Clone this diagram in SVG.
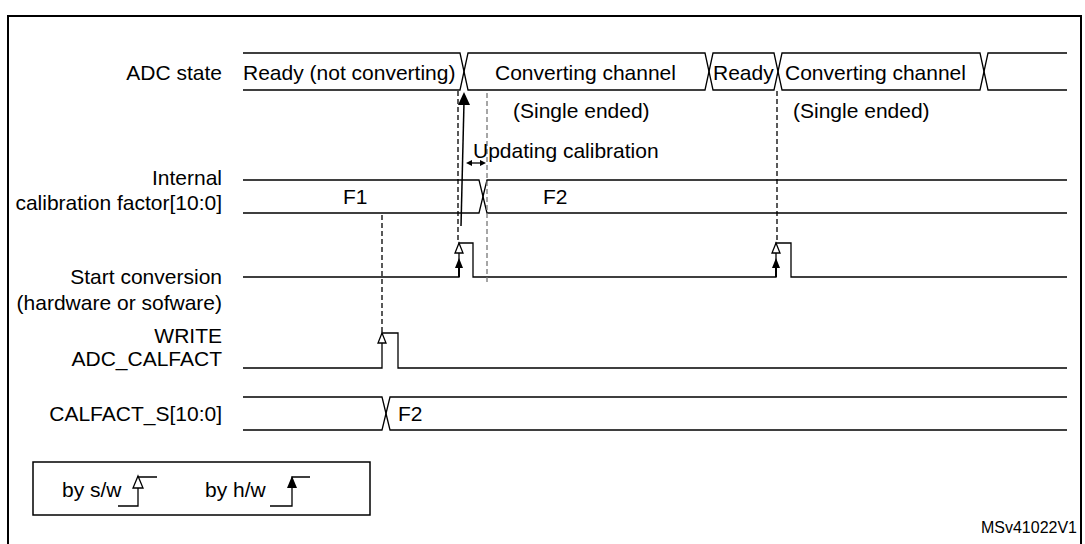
<svg xmlns="http://www.w3.org/2000/svg" width="1085" height="544" viewBox="0 0 1085 544">
<style>
text{font-family:"Liberation Sans",Arial,sans-serif;font-size:21px;fill:#000}
.lbl{text-anchor:end}
.sig{fill:none;stroke:#000;stroke-width:1.3}
.dash{fill:none;stroke:#000;stroke-width:1.3;stroke-dasharray:5,3}
.dashg{fill:none;stroke:#777;stroke-width:1.3;stroke-dasharray:5,3}
.open{fill:#fff;stroke:#000;stroke-width:1.3}
.fill{fill:#000;stroke:none}
</style>
<rect width="1085" height="544" fill="#fff"/>
<rect x="8" y="16" width="1073" height="560" fill="none" stroke="#000" stroke-width="2"/>

<g id="labels">
<text class="lbl" x="222" y="80">ADC state</text>
<text class="lbl" x="222" y="185">Internal</text>
<text class="lbl" x="222" y="210">calibration factor[10:0]</text>
<text class="lbl" x="222" y="284">Start conversion</text>
<text class="lbl" x="222" y="310">(hardware or sofware)</text>
<text class="lbl" x="222" y="343">WRITE</text>
<text class="lbl" x="222" y="366">ADC_CALFACT</text>
<text class="lbl" x="222" y="421">CALFACT_S[10:0]</text>
</g>

<g id="adc-state">
<path class="sig" d="M243,53 H460 L468,90 H705 L713,53 H774 L782,90 H980 L988,53 H1067"/>
<path class="sig" d="M243,90 H460 L468,53 H705 L713,90 H774 L782,53 H980 L988,90 H1067"/>
<text x="243" y="80">Ready (not converting)</text>
<text x="495" y="80">Converting channel</text>
<text x="713" y="80">Ready</text>
<text x="785" y="80">Converting channel</text>
<text x="513" y="118">(Single ended)</text>
<text x="793" y="118">(Single ended)</text>
</g>

<g id="calibration-factor">
<path class="sig" d="M243,180 H479 L487,213 H1067"/>
<path class="sig" d="M243,213 H479 L487,180 H1067"/>
<text x="343" y="204">F1</text>
<text x="543" y="204">F2</text>
</g>

<g id="start-conversion">
<path class="sig" d="M243,277 H459 V243 H473 V277 H776 V243 H791 V277 H1067"/>
<path class="open" d="M459,243 L455,253 H463 Z"/>
<path class="fill" d="M459,258 L455,268 H463 Z"/>
<line x1="459" y1="266" x2="459" y2="277" stroke="#000" stroke-width="2"/>
<path class="open" d="M776,243 L772,253 H780 Z"/>
<path class="fill" d="M776,258 L772,268 H780 Z"/>
<line x1="776" y1="266" x2="776" y2="277" stroke="#000" stroke-width="2"/>
</g>

<g id="write-calfact">
<path class="sig" d="M243,368 H382 V333 H398 V368 H1067"/>
<path class="open" d="M382,333 L378,343 H386 Z"/>
</g>

<g id="calfact-s">
<path class="sig" d="M243,397 H382 L390,430 H1067"/>
<path class="sig" d="M243,430 H382 L390,397 H1067"/>
<text x="398" y="421">F2</text>
</g>

<g id="connectors">
<line class="dash" x1="458" y1="91" x2="458" y2="243"/>
<line class="dashg" x1="487" y1="93" x2="487" y2="283"/>
<line class="dash" x1="777" y1="91" x2="777" y2="243"/>
<line class="dash" x1="382" y1="215" x2="382" y2="333"/>
<line x1="461" y1="226" x2="464" y2="102" stroke="#000" stroke-width="1.5"/>
<path class="fill" d="M464,92 L458,105 H470 Z"/>
<line x1="469" y1="163" x2="483" y2="163" stroke="#000" stroke-width="1.3"/>
<path class="fill" d="M466,163 L472,160 V166 Z"/>
<path class="fill" d="M486,163 L480,160 V166 Z"/>
<text x="473" y="158">Updating calibration</text>
</g>

<g id="legend">
<rect x="33" y="462" width="337" height="53" fill="none" stroke="#000" stroke-width="1.5"/>
<text x="62" y="497">by s/w</text>
<path class="sig" d="M118,506 H138 V477 H157" stroke-width="2"/>
<path class="open" d="M138,476 L133,488 H143 Z"/>
<text x="205" y="497">by h/w</text>
<path class="sig" d="M270,506 H292 V477 H310" stroke-width="2"/>
<path class="fill" d="M292,476 L287,488 H297 Z"/>
</g>

<text x="1077" y="533" style="font-size:16px;text-anchor:end">MSv41022V1</text>
</svg>
